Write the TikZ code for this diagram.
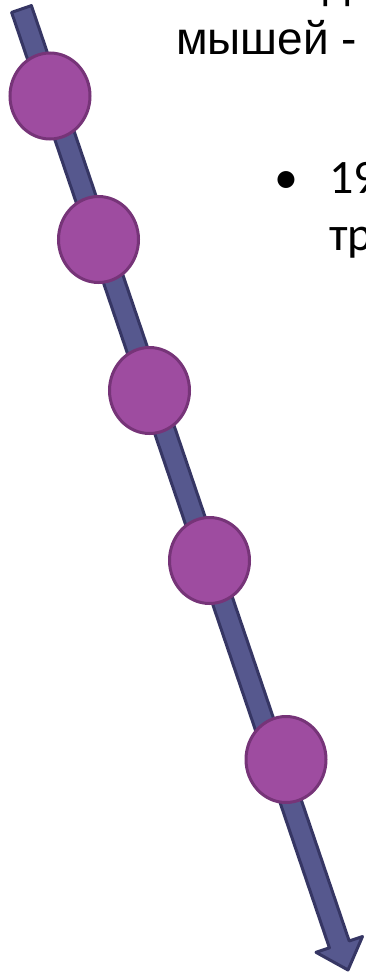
\documentclass[tikz,border=0pt]{standalone}
\usepackage{fontspec}
\setmainfont{Carlito}
\newfontfamily\arialfam{Liberation Sans}
\usetikzlibrary{shapes.geometric}
\definecolor{shaftfill}{RGB}{86,88,142}
\definecolor{shaftline}{RGB}{54,54,100}
\definecolor{dotfill}{RGB}{158,76,160}
\definecolor{dotline}{RGB}{118,52,120}
\tikzset{
  blockarrow/.style={fill=shaftfill,draw=shaftline,line width=3pt,line join=round},
  dot/.style={ellipse,fill=dotfill,draw=dotline,line width=3pt,minimum width=80pt,minimum height=86pt,inner sep=0pt},
  txt/.style={font=\fontsize{48}{57}\selectfont,inner sep=0pt,anchor=base west,text=black},
  atxt/.style={font=\arialfam\fontsize{46}{55}\selectfont,inner sep=0pt,anchor=base west,text=black},
}
\begin{document}
\begin{tikzpicture}[x=1pt,y=-1pt]
\useasboundingbox (0,0) rectangle (366,974);
\clip (0,0) rectangle (366,974);
% arrow
\coordinate (tail) at (21.5,9);
\coordinate (tip) at (348,970);
\draw[blockarrow] (31.4,5.6) -- (349.2,941.0) -- (362.5,936.5) -- (tip) -- (316.0,952.3) -- (329.4,947.8) -- (11.6,12.4) -- cycle;
% dots
\node[dot] (c1) at (50,96) {};
\node[dot] (c2) at (98.5,239.5) {};
\node[dot] (c3) at (149.5,390.5) {};
\node[dot] (c4) at (209.5,560.5) {};
\node[dot] (c5) at (286,759.5) {};
% text
\node[atxt] (t0) at (323,-2) {д};
\node[atxt] (t1) at (176,55) {мышей -};
\node[txt] (bul) at (274,193) {•};
\node[txt] (t2) at (329,193) {19};
\node[txt] (t3) at (329,250) {тр};
\end{tikzpicture}
\end{document}
